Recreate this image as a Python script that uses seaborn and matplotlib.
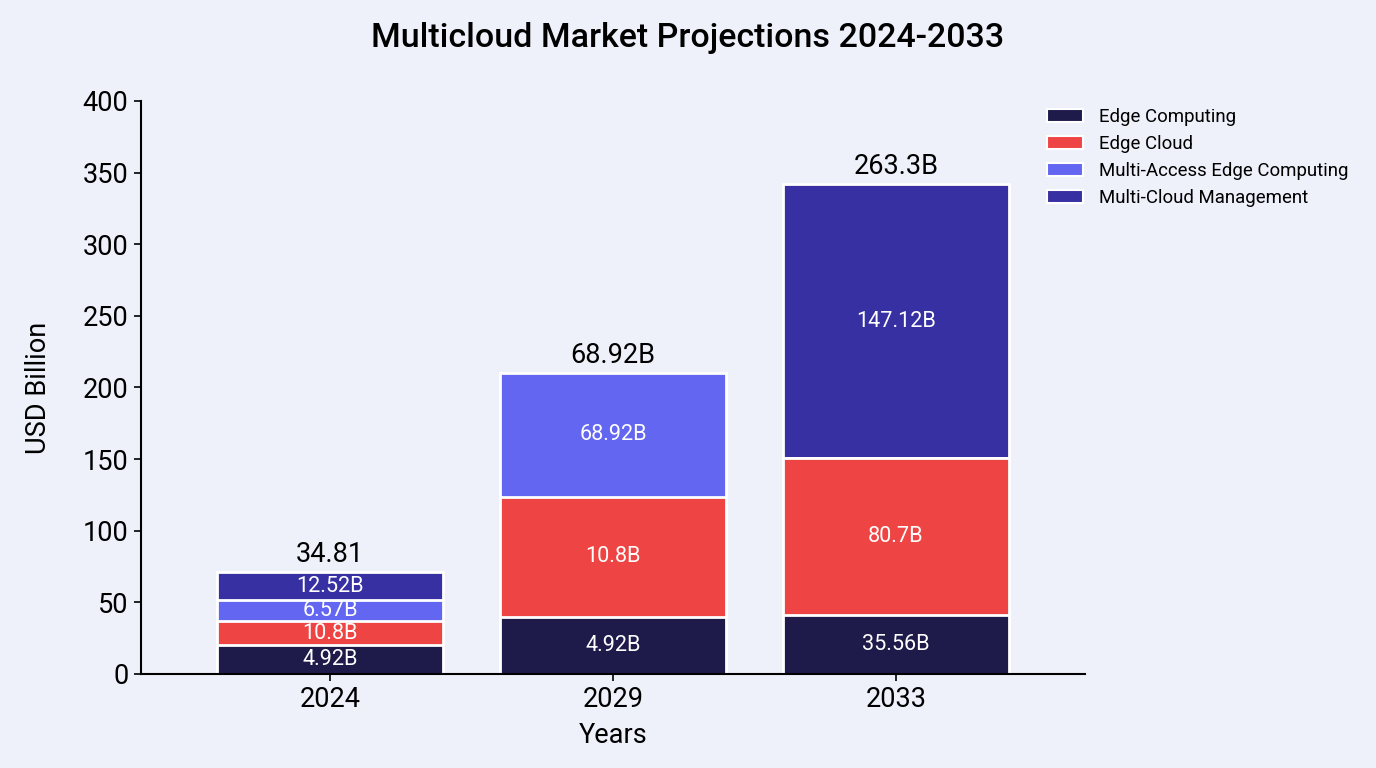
import matplotlib
matplotlib.use("Agg")
import matplotlib.pyplot as plt
from matplotlib.patches import Patch
import seaborn as sns
import numpy as np
import pandas as pd

years = ["2024", "2029", "2033"]
segments = ["Edge Computing", "Edge Cloud", "Multi-Access Edge Computing", "Multi-Cloud Management"]
# bar segment heights as drawn (USD Billion)
edge_computing = [20.0, 39.6, 41.2]
edge_cloud = [17.0, 84.2, 109.4]
multi_access = [14.7, 86.1, 0.0]
multi_cloud = [19.3, 0.0, 191.4]
# printed labels
edge_computing_lbl = ["4.92B", "4.92B", "35.56B"]
edge_cloud_lbl = ["10.8B", "10.8B", "80.7B"]
multi_access_lbl = ["6.57B", "68.92B", ""]
multi_cloud_lbl = ["12.52B", "", "147.12B"]
total_lbl = ["34.81", "68.92B", "263.3B"]

colors = ["#1e1b4b", "#ef4444", "#6366f1", "#3730a3"]
bg = "#eef0fa"

sns.set_style("ticks")
plt.rcParams["font.family"] = ["Roboto", "DejaVu Sans"]
plt.rcParams["text.color"] = "black"
plt.rcParams["axes.labelcolor"] = "black"

fig = plt.figure(figsize=(13.76, 7.68), dpi=100, facecolor=bg)
ax = fig.add_axes([0.1025, 0.1224, 0.686, 0.7461])
ax.set_facecolor(bg)

series = [edge_computing, edge_cloud, multi_access, multi_cloud]
labels = [edge_computing_lbl, edge_cloud_lbl, multi_access_lbl, multi_cloud_lbl]
cum = np.cumsum(np.array(series), axis=0)

# draw cumulative bars from top layer down so lower layers overlay
for i in range(len(series) - 1, -1, -1):
    df = pd.DataFrame({"year": years, "val": cum[i]})
    sns.barplot(data=df, x="year", y="val", order=years, color=colors[i],
                width=0.8, edgecolor="white", linewidth=2, saturation=1, ax=ax)

for i in range(len(series)):
    bottoms = cum[i] - np.array(series[i])
    for j in range(len(years)):
        if series[i][j] > 0 and labels[i][j]:
            ax.text(j, bottoms[j] + series[i][j] / 2, labels[i][j], ha="center",
                    va="center", color="white", fontsize=15.6)

for j in range(len(years)):
    ax.text(j, cum[-1][j] + 3, total_lbl[j], ha="center", va="bottom",
            color="black", fontsize=19.5)

ax.set_xlim(-0.668, 2.668)
ax.set_ylim(0, 400)
ax.set_yticks(np.arange(0, 401, 50))
ax.tick_params(axis="both", labelsize=19.5, length=5, width=1.2, colors="black", pad=4)
ax.set_xlabel("Years", fontsize=19.5, labelpad=6, color="black")
ax.set_ylabel("USD Billion", fontsize=19.5, labelpad=22, color="black")
for s in ["left", "bottom"]:
    ax.spines[s].set_linewidth(1.5)
    ax.spines[s].set_color("black")
sns.despine(ax=ax)

fig.suptitle("Multicloud Market Projections 2024-2033", x=0.5, y=0.972,
             fontsize=24.5, fontweight="medium", color="black")

handles = [Patch(facecolor=c, edgecolor="white", linewidth=1.5) for c in colors]
fig.legend(handles, segments, loc="upper left", bbox_to_anchor=(0.749, 0.881),
           frameon=False, fontsize=13.4, handlelength=1.9, handleheight=0.75,
           labelspacing=0.48, handletextpad=0.85)

fig.savefig("out.png", dpi=100, facecolor=bg)
